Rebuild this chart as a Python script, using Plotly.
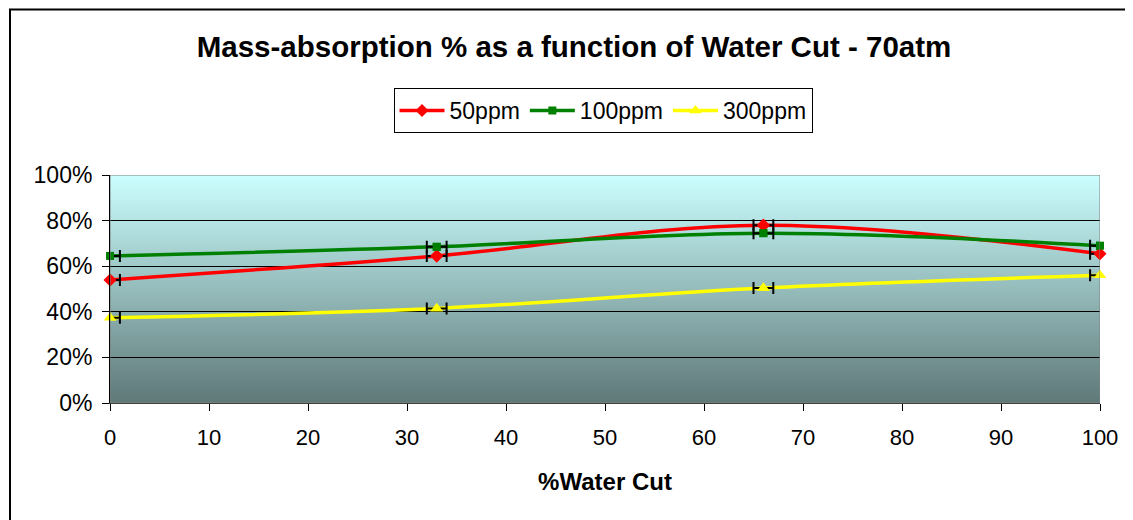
import plotly.graph_objects as go

# ---- data ----
water_cut = [0, 33, 66, 100]
s50 = [0.54, 0.645, 0.78, 0.655]
s100 = [0.645, 0.685, 0.745, 0.69]
s300 = [0.374, 0.415, 0.504, 0.56]
err_x = [1, 1, 1, 1]
series_names = ["50ppm", "100ppm", "300ppm"]
x_ticks = [0, 10, 20, 30, 40, 50, 60, 70, 80, 90, 100]
y_ticks = [0, 0.2, 0.4, 0.6, 0.8, 1.0]
y_tick_labels = ["0%", "20%", "40%", "60%", "80%", "100%"]

FONT = "Liberation Sans, Arial, sans-serif"

# page has an 8px body margin; figure coordinates are offset accordingly
W, H = 1125, 512

fig = go.Figure()

styles = [
    (s50, "#FF0000", "diamond", 10),
    (s100, "#008000", "square", 8),
    (s300, "#FFFF00", "triangle-up", 11),
]
# lines first
for (vals, col, sym, msize), name in zip(styles, series_names):
    fig.add_trace(go.Scatter(
        x=water_cut, y=vals, name=name, mode="lines+markers",
        line=dict(color=col, width=3.5, shape="spline", smoothing=1.0),
        marker=dict(color=col, symbol=sym, size=msize),
    ))
# error bars (clipped to plot area) on top of the lines
for (vals, col, sym, msize), name in zip(styles, series_names):
    fig.add_trace(go.Scatter(
        x=water_cut, y=vals, name=name, mode="markers", showlegend=False,
        marker=dict(color="rgba(0,0,0,0)", size=1),
        error_x=dict(type="data", array=err_x, symmetric=True,
                     color="black", thickness=2, width=6),
        hoverinfo="skip",
    ))
# markers on top, not clipped
for (vals, col, sym, msize), name in zip(styles, series_names):
    fig.add_trace(go.Scatter(
        x=water_cut, y=vals, name=name, mode="markers", showlegend=False,
        marker=dict(color=col, symbol=sym, size=msize), cliponaxis=False,
    ))

# gradient plot background (bands)
n = 100
top = (204, 255, 255)
bot = (95, 120, 120)
shapes = []
for i in range(n):
    t = (i + 0.5) / n
    c = tuple(int(round(bot[k] + (top[k] - bot[k]) * t)) for k in range(3))
    shapes.append(dict(type="rect", xref="x", yref="y", x0=0, x1=100,
                       y0=i / n, y1=min(1.0, (i + 2) / n), layer="below",
                       line=dict(width=0), fillcolor="rgb(%d,%d,%d)" % c))
# plot-area border (gray)
shapes.append(dict(type="rect", xref="x", yref="y", x0=0, x1=100, y0=0, y1=1,
                   layer="above", line=dict(color="#808080", width=1),
                   fillcolor="rgba(0,0,0,0)"))
# outer chart border
shapes.append(dict(type="rect", xref="paper", yref="paper",
                   x0=(2 - 102) / 990, x1=(1145 - 110) / 990,
                   y0=(403 - 540) / 228, y1=(403 - 9.5) / 228,
                   layer="above", line=dict(color="black", width=2),
                   fillcolor="rgba(0,0,0,0)"))

fig.update_layout(
    width=W, height=H,
    paper_bgcolor="white", plot_bgcolor="white",
    margin=dict(l=102, r=33, t=167, b=117),
    font=dict(family=FONT, size=22, color="black"),
    title=dict(text="<b>Mass-absorption % as a function of Water Cut - 70atm</b>",
               x=566 / W, xanchor="center", y=1 - 39 / H, yanchor="middle",
               font=dict(size=29.5, family=FONT, color="black")),
    legend=dict(orientation="h", x=0.498, xanchor="center",
                y=(403 - 88) / 228, yanchor="top",
                bordercolor="black", borderwidth=1, bgcolor="white",
                font=dict(size=23, family=FONT), itemwidth=45,
                tracegroupgap=0),
    showlegend=True,
    shapes=shapes,
    xaxis=dict(range=[0, 100], tickvals=x_ticks, ticks="outside", ticklen=7,
               tickcolor="black", showline=True, linecolor="#404040",
               linewidth=1, showgrid=False, zeroline=False,
               tickfont=dict(size=22, family=FONT), ticklabelstandoff=8,
               title=dict(text="<b>%Water Cut</b>", font=dict(size=24, family=FONT),
                          standoff=23)),
    yaxis=dict(range=[0, 1], tickvals=y_ticks, ticktext=y_tick_labels,
               ticks="outside", ticklen=7, tickcolor="black",
               showline=True, linecolor="black", linewidth=1,
               showgrid=True, gridcolor="black", gridwidth=1, zeroline=False,
               tickfont=dict(size=23, family=FONT), ticklabelstandoff=5),
)

fig.write_html("out.html")
